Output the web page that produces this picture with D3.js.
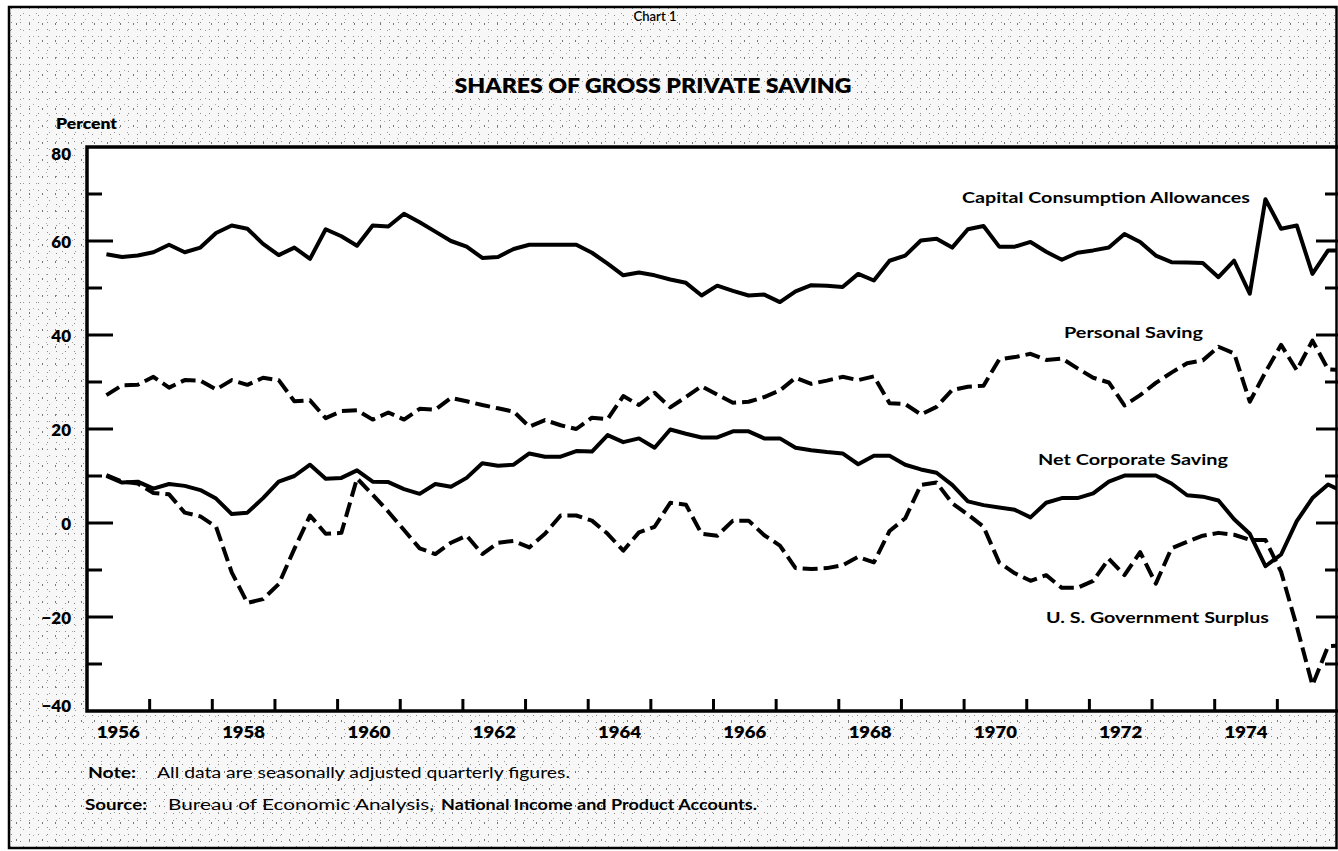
<!DOCTYPE html>
<html><head><meta charset="utf-8">
<script src="https://cdn.jsdelivr.net/npm/d3@7"></script>
<style>
body{margin:0;background:#fff;}
svg{display:block;}
text{font-family:Lato,'Open Sans','DejaVu Sans',sans-serif;fill:#000;}
</style>
</head><body>
<svg id="chart" width="1338" height="851"></svg>
<script>
// ---------- DATA (quarterly, percent of gross private saving) ----------
const startYear = 1956, startQuarter = 2;

const capitalConsumption = [
  57.2, 56.6, 56.9,
  57.6, 59.2, 57.6, 58.6,
  61.7, 63.3, 62.6, 59.4,
  57.0, 58.6, 56.2, 62.5,
  61.0, 59.0, 63.3, 63.1,
  65.8, 64.0, 62.0, 60.0,
  58.8, 56.4, 56.6, 58.3,
  59.2, 59.2, 59.2, 59.2,
  57.5, 55.2, 52.7, 53.3,
  52.7, 51.8, 51.1, 48.4,
  50.5, 49.4, 48.4, 48.6,
  47.0, 49.3, 50.6, 50.5,
  50.2, 53.0, 51.6, 55.8,
  56.9, 60.1, 60.5, 58.6,
  62.5, 63.2, 58.8, 58.8,
  59.8, 57.7, 56.0, 57.5,
  58.0, 58.6, 61.5, 59.8,
  56.9, 55.5, 55.4, 55.3,
  52.3, 55.8, 48.8, 68.9,
  62.6, 63.3, 53.0, 58.0,
  58.0
];
const personalSaving = [
  27.2, 29.3, 29.4,
  31.1, 28.8, 30.4, 30.3,
  28.4, 30.4, 29.4, 30.9,
  30.4, 25.9, 26.1, 22.3,
  23.8, 24.0, 22.0, 23.5,
  22.0, 24.3, 24.1, 26.6,
  25.9, 25.1, 24.4, 23.7,
  20.5, 21.9, 20.8, 20.0,
  22.4, 22.1, 27.0, 25.1,
  27.7, 24.6, 26.8, 29.1,
  27.3, 25.6, 25.8, 26.8,
  28.2, 30.9, 29.6, 30.3,
  31.1, 30.4, 31.2, 25.5,
  25.3, 23.1, 24.7, 28.3,
  29.0, 29.2, 34.8, 35.3,
  36.0, 34.7, 35.0, 32.9,
  30.9, 29.9, 25.0, 27.2,
  29.8, 32.0, 34.0, 34.6,
  37.5, 36.1, 25.8, 32.1,
  37.9, 32.5, 38.8, 32.7,
  32.5
];
const netCorporateSaving = [
  10.0, 8.6, 8.8,
  7.3, 8.3, 7.9, 7.0,
  5.2, 1.9, 2.2, 5.3,
  8.8, 10.0, 12.4, 9.4,
  9.6, 11.2, 8.8, 8.7,
  7.2, 6.2, 8.3, 7.7,
  9.6, 12.7, 12.2, 12.4,
  14.8, 14.1, 14.1, 15.3,
  15.2, 18.7, 17.2, 18.0,
  16.0, 19.9, 19.0, 18.2,
  18.2, 19.5, 19.5, 18.0,
  18.0, 16.0, 15.5, 15.1,
  14.8, 12.5, 14.3, 14.3,
  12.4, 11.4, 10.7, 8.1,
  4.6, 3.8, 3.3, 2.8,
  1.2, 4.3, 5.3, 5.3,
  6.3, 8.8, 10.1, 10.1,
  10.1, 8.4, 5.9, 5.6,
  4.8, 0.8, -2.3, -9.2,
  -6.7, 0.4, 5.3, 8.2,
  6.6
];
const governmentSurplus = [
  10.2, 8.8, 8.4,
  6.4, 6.1, 2.2, 1.4,
  -0.8, -10.5, -17.0, -16.2,
  -13.0, -5.5, 1.6, -2.3,
  -2.1, 9.5, 6.0, 2.4,
  -1.5, -5.4, -6.6, -4.2,
  -2.7, -6.6, -4.2, -3.8,
  -5.2, -2.3, 1.6, 1.6,
  0.5, -2.3, -5.9, -2.0,
  -0.8, 4.3, 3.9, -2.3,
  -2.7, 0.5, 0.5, -2.6,
  -4.8, -9.6, -9.8, -9.6,
  -9.0, -7.2, -8.4, -1.7,
  1.0, 8.1, 8.6, 4.2,
  1.8, -0.8, -8.4, -10.7,
  -12.3, -11.1, -13.8, -13.8,
  -12.3, -7.6, -11.1, -6.2,
  -12.9, -5.4, -4.0, -2.7,
  -2.1, -2.5, -3.6, -3.6,
  -10.4, -22.0, -34.5, -26.2,
  -26.0
];

const seriesNames = ["Capital Consumption Allowances", "Personal Saving", "Net Corporate Saving", "U. S. Government Surplus"];
const yTickValues = [-40, -30, -20, -10, 0, 10, 20, 30, 40, 50, 60, 70, 80];
const yLabelValues = [80, 60, 40, 20, 0, -20, -40];
const yearTickValues = [1957,1958,1959,1960,1961,1962,1963,1964,1965,1966,1967,1968,1969,1970,1971,1972,1973,1974,1975];
const yearLabelValues = [1956,1958,1960,1962,1964,1966,1968,1970,1972,1974];

// quarter categories
const periods = capitalConsumption.map((_, i) => {
  const k = startQuarter - 1 + i;
  return { year: startYear + Math.floor(k / 4), quarter: (k % 4) + 1 };
});

// ---------- LAYOUT ----------
const svg = d3.select("#chart");
const W = 1338, H = 851;
const plot = { left: 87, right: 1340, top: 147, bottom: 711 };

const x = d3.scaleLinear().domain([1956, 1976]).range([plot.left, plot.right]);
const y = d3.scaleLinear().domain([-40, 80]).range([plot.bottom, plot.top]);
const px = p => x(p.year + (p.quarter - 1) / 4 + 0.06);

// stipple background (sparse specks)
const defs = svg.append("defs");
const p1 = defs.append("pattern").attr("id", "st1").attr("width", 9).attr("height", 7).attr("patternUnits", "userSpaceOnUse");
p1.append("rect").attr("x", 2).attr("y", 1).attr("width", 1).attr("height", 1).attr("fill", "#8a8a8a");
const p2 = defs.append("pattern").attr("id", "st2").attr("width", 13).attr("height", 17).attr("patternUnits", "userSpaceOnUse");
p2.append("rect").attr("x", 3).attr("y", 6).attr("width", 1).attr("height", 2).attr("fill", "#777");
p2.append("rect").attr("x", 10).attr("y", 13).attr("width", 1).attr("height", 1).attr("fill", "#999");
p2.append("rect").attr("x", 7).attr("y", 2).attr("width", 1).attr("height", 1).attr("fill", "#aaa");
defs.append("clipPath").attr("id", "plotClip").append("rect")
  .attr("x", plot.left).attr("y", plot.top - 10).attr("width", 1336 - plot.left).attr("height", plot.bottom - plot.top + 20);

svg.append("rect").attr("width", W).attr("height", H).attr("fill", "#fff");
svg.append("rect").attr("x", 9).attr("y", 7).attr("width", 1327.5).attr("height", 841).attr("fill", "#f7f7f7");
svg.append("rect").attr("x", 9).attr("y", 7).attr("width", 1327.5).attr("height", 841).attr("fill", "url(#st1)");
svg.append("rect").attr("x", 9).attr("y", 7).attr("width", 1327.5).attr("height", 841).attr("fill", "url(#st2)");

// white plot area
svg.append("rect").attr("x", plot.left).attr("y", plot.top)
  .attr("width", 1336.5 - plot.left).attr("height", plot.bottom - plot.top).attr("fill", "#fff");

// outer border
svg.append("rect").attr("x", 9).attr("y", 7).attr("width", 1327.5).attr("height", 841)
  .attr("fill", "none").attr("stroke", "#000").attr("stroke-width", 2.5);

// plot frame (left, top, bottom)
svg.append("path")
  .attr("d", `M${W},${plot.top}H${plot.left}V${plot.bottom}H${W}`)
  .attr("fill", "none").attr("stroke", "#000").attr("stroke-width", 3.5);

// y ticks left and right
const tickG = svg.append("g").attr("stroke", "#000").attr("stroke-width", 3);
yTickValues.filter(v => v > -40 && v < 80).forEach(v => {
  const major = v % 20 === 0;
  tickG.append("line").attr("x1", plot.left).attr("x2", plot.left + (major ? 26 : 15))
    .attr("y1", y(v)).attr("y2", y(v));
  tickG.append("line").attr("x1", 1340).attr("x2", 1340 - (major ? 24 : 15))
    .attr("y1", y(v)).attr("y2", y(v));
});
// x ticks (upward)
yearTickValues.forEach(yr => {
  tickG.append("line").attr("x1", x(yr)).attr("x2", x(yr))
    .attr("y1", plot.bottom).attr("y2", plot.bottom - 12);
});

// y labels
const fmt = v => v < 0 ? "\u2212" + Math.abs(v) : String(v);
yLabelValues.forEach(v => {
  let yy = y(v);
  if (v === 80) yy += 6;
  if (v === -40) yy -= 6;
  svg.append("text").attr("x", 71).attr("y", yy)
    .attr("text-anchor", "end").attr("dominant-baseline", "central")
    .attr("font-size", 17).attr("font-weight", 800)
    .text(fmt(v));
});

// year labels
yearLabelValues.forEach(yr => {
  svg.append("text").attr("x", x(yr + 0.5)).attr("y", 731)
    .attr("text-anchor", "middle").attr("dominant-baseline", "central")
    .attr("font-size", 16).attr("font-weight", 800)
    .attr("textLength", 43).attr("lengthAdjust", "spacingAndGlyphs")
    .text(yr);
});

// series lines
const line = d3.line().x(d => px(d.p)).y(d => y(d.v));
const series = [
  { name: seriesNames[0], values: capitalConsumption, dash: null },
  { name: seriesNames[1], values: personalSaving, dash: "15,6" },
  { name: seriesNames[2], values: netCorporateSaving, dash: null },
  { name: seriesNames[3], values: governmentSurplus, dash: "15,6" }
];
const lg = svg.append("g").attr("clip-path", "url(#plotClip)");
series.forEach(s => {
  lg.append("path")
    .datum(s.values.map((v, i) => ({ p: periods[i], v })))
    .attr("d", line)
    .attr("fill", "none").attr("stroke", "#000").attr("stroke-width", 4)
    .attr("stroke-linejoin", "round")
    .attr("stroke-dasharray", s.dash);
});

// series labels
const labelPos = [
  { x: 962, y: 197, len: 288 },
  { x: 1064, y: 332, len: 139 },
  { x: 1038, y: 459, len: 190 },
  { x: 1046, y: 617, len: 223 }
];
series.forEach((s, i) => {
  svg.append("text").attr("x", labelPos[i].x).attr("y", labelPos[i].y)
    .attr("dominant-baseline", "central")
    .attr("font-size", 15).attr("font-weight", 700)
    .attr("textLength", labelPos[i].len).attr("lengthAdjust", "spacingAndGlyphs")
    .text(s.name);
});

// titles
svg.append("text").attr("x", 655).attr("y", 15).attr("text-anchor", "middle")
  .attr("dominant-baseline", "central").attr("font-size", 14).attr("font-weight", 600)
  .attr("textLength", 43).attr("lengthAdjust", "spacingAndGlyphs").text("Chart 1");
svg.append("text").attr("x", 653).attr("y", 85).attr("text-anchor", "middle")
  .attr("dominant-baseline", "central").attr("font-size", 20).attr("font-weight", 800)
  .attr("textLength", 397).attr("lengthAdjust", "spacingAndGlyphs").text("SHARES OF GROSS PRIVATE SAVING");
svg.append("text").attr("x", 56).attr("y", 123)
  .attr("dominant-baseline", "central").attr("font-size", 14).attr("font-weight", 800)
  .attr("textLength", 61).attr("lengthAdjust", "spacingAndGlyphs").text("Percent");

// notes
const noteParts = [
  { x: 88, y: 772, len: 48, w: 700, t: "Note:" },
  { x: 157, y: 772, len: 413, w: 400, t: "All data are seasonally adjusted quarterly figures." },
  { x: 85, y: 804, len: 62, w: 700, t: "Source:" },
  { x: 168, y: 804, len: 266, w: 400, t: "Bureau of Economic Analysis," },
  { x: 441, y: 804, len: 316, w: 700, t: "National Income and Product Accounts." }
];
noteParts.forEach(n => {
  svg.append("text").attr("x", n.x).attr("y", n.y).attr("dominant-baseline", "central")
    .attr("font-size", 14.5).attr("font-weight", n.w)
    .attr("textLength", n.len).attr("lengthAdjust", "spacingAndGlyphs").text(n.t);
});
</script>
</body></html>
